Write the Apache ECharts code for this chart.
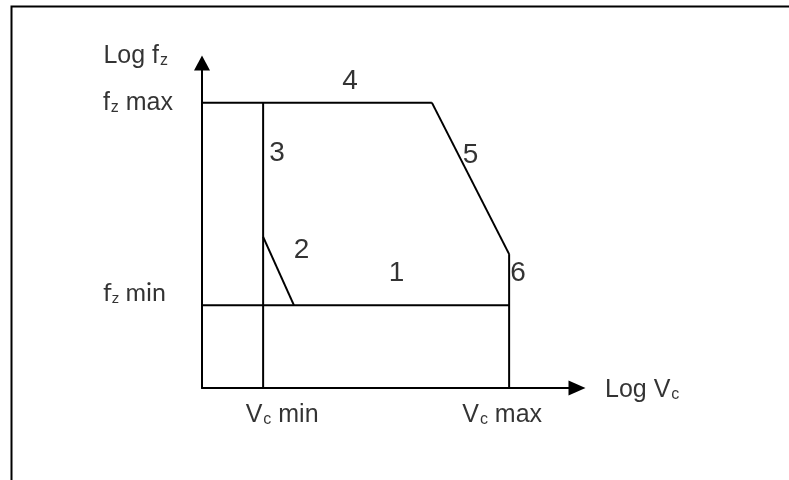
<!DOCTYPE html>
<html>
<head>
<meta charset="utf-8">
<script src="https://cdn.jsdelivr.net/npm/echarts@6/dist/echarts.min.js"></script>
<style>
  html, body { margin: 0; padding: 0; background: #fff; }
  #main { width: 789px; height: 480px; }
</style>
</head>
<body>
<div id="main"></div>
<script>
  // boundary segments of the working region, in (log Vc, log fz) units
  const segmentNames = ['1', '2', '3', '4', '5', '6'];
  const segmentX = [[0, 8.19], [1.63, 2.45], [1.63, 1.63], [0, 6.13], [6.13, 8.19], [8.19, 8.19]];
  const segmentY = [[2.55, 2.55], [4.65, 2.55], [0, 8.78], [8.78, 8.78], [8.78, 4.12], [4.12, 0]];

  // level names on the axes
  const fzLevels = ['f{s|z} max', 'f{t|z} min'];
  const fzValues = [8.78, 2.55];
  const vcLevels = ['V{s|c} min', 'V{s|c} max'];
  const vcValues = [1.63, 8.19];
  const axisNames = ['Log V{s|c}', 'Log f{s|z}'];

  let chart = echarts.init(document.getElementById('main'));

  let black = '#000';
  let textFont = 'Liberation Sans';
  // subscripts: small box pinned to the bottom of the line so they sit below the baseline
  let rich = {
    s: {fontSize: 16, fontFamily: textFont, color: black, verticalAlign: 'bottom', lineHeight: 11, padding: [0, 0, 0, 1]},
    t: {fontSize: 16, fontFamily: 'Lato', color: black, verticalAlign: 'bottom', lineHeight: 11}
  };

  // label offsets (px) from each segment midpoint
  let digitOffsets = [[41, -32], [23, -21], [14, -92], [33, -21], [0, -23], [9, -48]];

  let series = [];
  for (let i = 0; i < segmentNames.length; i++) {
    series.push({
      name: 'seg' + segmentNames[i],
      type: 'line',
      symbol: 'none',
      silent: true,
      lineStyle: {color: black, width: 2},
      data: [[segmentX[i][0], segmentY[i][0]], [segmentX[i][1], segmentY[i][1]]]
    });
  }

  let digitData = segmentNames.map(function (n, i) {
    return {
      value: [(segmentX[i][0] + segmentX[i][1]) / 2, (segmentY[i][0] + segmentY[i][1]) / 2],
      label: {formatter: n, offset: digitOffsets[i]}
    };
  });
  series.push({
    type: 'scatter',
    symbolSize: 0,
    silent: true,
    itemStyle: {color: black},
    label: {show: true, position: 'inside', color: black, textBorderWidth: 0,
      fontSize: 28, fontFamily: textFont},
    data: digitData
  });

  let nameData = [
    {value: [0, fzValues[0]], label: {formatter: fzLevels[0], align: 'right', offset: [-29, 0]}},
    {value: [0, fzValues[1]], label: {formatter: fzLevels[1], align: 'right', offset: [-36, -12],
      fontFamily: 'Lato', fontSize: 25}},
    {value: [vcValues[0], 0], label: {formatter: vcLevels[0], offset: [19, 27]}},
    {value: [vcValues[1], 0], label: {formatter: vcLevels[1], offset: [-7, 27]}},
    {value: [10, 0], label: {formatter: axisNames[0], align: 'left', offset: [28, 2]}},
    {value: [0, 10], label: {formatter: axisNames[1], align: 'right', offset: [-34, -7]}}
  ];
  series.push({
    type: 'scatter',
    symbolSize: 0,
    silent: true,
    itemStyle: {color: black},
    label: {show: true, position: 'inside', color: black, textBorderWidth: 0,
      fontSize: 25, lineHeight: 25, fontFamily: textFont, rich: rich},
    data: nameData
  });

  let axisBase = {
    type: 'value',
    min: 0,
    max: 10,
    axisTick: {show: false},
    axisLabel: {show: false},
    splitLine: {show: false}
  };

  let option = {
    animation: false,
    backgroundColor: '#fff',
    grid: {left: 202, right: 212, top: 63, bottom: 92},
    xAxis: Object.assign({}, axisBase, {
      axisLine: {show: true, symbol: ['none', 'triangle'], symbolSize: [15, 17],
        lineStyle: {color: black, width: 2}}
    }),
    yAxis: Object.assign({}, axisBase, {
      axisLine: {show: true, symbol: ['none', 'triangle'], symbolSize: [16, 15],
        lineStyle: {color: black, width: 2}}
    }),
    graphic: [{
      type: 'rect',
      left: 9, top: 4,
      shape: {width: 900, height: 600},
      style: {fill: 'none', stroke: black, lineWidth: 2},
      silent: true
    }],
    series: series
  };

  chart.setOption(option);
</script>
</body>
</html>
